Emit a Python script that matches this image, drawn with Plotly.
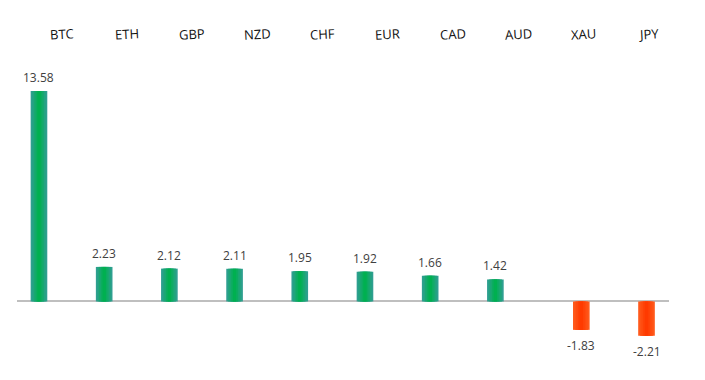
import plotly.graph_objects as go

categories = ["BTC", "ETH", "GBP", "NZD", "CHF", "EUR", "CAD", "AUD", "XAU", "JPY"]
values = [13.58, 2.23, 2.12, 2.11, 1.95, 1.92, 1.66, 1.42, -1.83, -2.21]

pos_vals = [v if v > 0 else None for v in values]
neg_vals = [v if v < 0 else None for v in values]

def mix(c1, c2, t):
    a = [int(c1[i:i + 2], 16) for i in (1, 3, 5)]
    b = [int(c2[i:i + 2], 16) for i in (1, 3, 5)]
    return "#%02x%02x%02x" % tuple(round(a[k] + (b[k] - a[k]) * t) for k in range(3))

GREEN_EDGE, GREEN_MID = "#2f9f90", "#00b050"
RED_EDGE, RED_MID = "#ff5a1c", "#ff3a00"

fig = go.Figure()

BW = 0.255
POS_C = -0.163
NEG_C = 0.155
layers = [1.0, 0.8, 0.6, 0.4, 0.2]
for i, f in enumerate(layers):
    t = i / (len(layers) - 1)
    w = BW * f
    fig.add_trace(go.Bar(x=categories, y=pos_vals, width=w, offset=POS_C - w / 2,
                         marker=dict(color=mix(GREEN_EDGE, GREEN_MID, t), line=dict(width=0)),
                         hoverinfo="skip", showlegend=False))
    fig.add_trace(go.Bar(x=categories, y=neg_vals, width=w, offset=NEG_C - w / 2,
                         marker=dict(color=mix(RED_EDGE, RED_MID, t), line=dict(width=0)),
                         hoverinfo="skip", showlegend=False))

annotations = []
for c, v in zip(categories, values):
    if v > 0:
        annotations.append(dict(x=c, y=v, xref="x", yref="y", text=f"{v:.2f}", showarrow=False,
                                xshift=POS_C * 65.2, yshift=3, yanchor="bottom",
                                font=dict(family="Open Sans", size=12, color="#404040")))
    else:
        annotations.append(dict(x=c, y=v, xref="x", yref="y", text=f"{v:.2f}", showarrow=False,
                                xshift=NEG_C * 65.2, yshift=-5, yanchor="top",
                                font=dict(family="Open Sans", size=12, color="#404040")))
    annotations.append(dict(x=c, y=1, xref="x", yref="paper", text=c, showarrow=False,
                            xshift=12, yshift=26, yanchor="middle", textangle=-3,
                            font=dict(family="Open Sans", size=13, color="#111111")))

fig.update_layout(
    width=697, height=372,
    margin=dict(l=9, r=36, t=52, b=10),
    paper_bgcolor="white", plot_bgcolor="white",
    barmode="overlay",
    xaxis=dict(showticklabels=False, showgrid=False, zeroline=False, showline=False,
               range=[-0.5, 9.5], fixedrange=True),
    yaxis=dict(showticklabels=False, showgrid=False, zeroline=True, zerolinecolor="#bfbfbf",
               zerolinewidth=2, showline=False, range=[-4.42, 15.58]),
    annotations=annotations,
    showlegend=False,
)

fig.write_html("out.html")
